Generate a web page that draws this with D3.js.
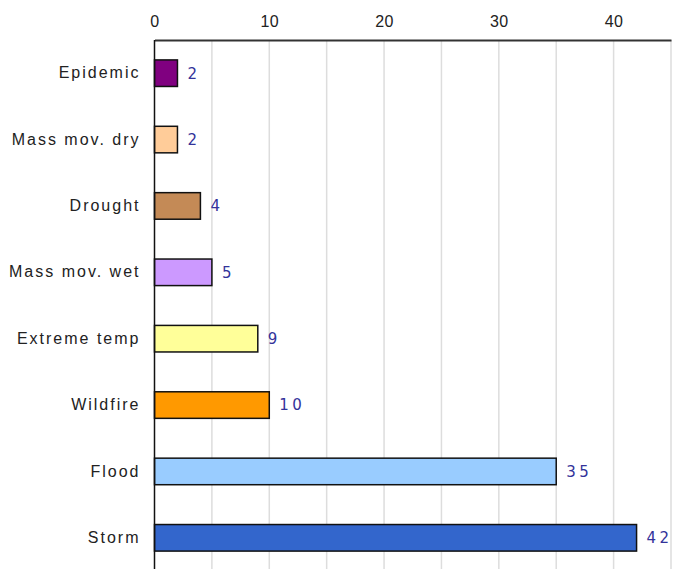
<!DOCTYPE html>
<html><head><meta charset="utf-8">
<script src="https://cdn.jsdelivr.net/npm/d3@7"></script>
<style>body{margin:0;background:#fff;}</style>
</head><body>
<svg id="c" width="675" height="569"></svg>
<script>
const categories = ["Epidemic","Mass mov. dry","Drought","Mass mov. wet","Extreme temp","Wildfire","Flood","Storm"];
const values = [2,2,4,5,9,10,35,42];
const colors = ["#800080","#FFCC99","#C48A56","#CC99FF","#FFFF99","#FF9900","#99CCFF","#3366CC"];
const tickLabels = [0,10,20,30,40];
const gridValues = [5,10,15,20,25,30,35,40,45];

(function(){
const svg = d3.select("#c");
const mLeft = 154.5, mRight = 671, mTop = 40, mBottom = 571;
const x = d3.scaleLinear().domain([0,45]).range([mLeft,mRight]);
const y = d3.scaleBand().domain(categories).range([mTop,mBottom]).paddingInner(0.6).paddingOuter(0.3);

svg.append("g").selectAll("line").data(gridValues).join("line")
  .attr("x1",d=>x(d)).attr("x2",d=>x(d)).attr("y1",mTop).attr("y2",569)
  .attr("stroke","#dddddd").attr("stroke-width",1.5);

svg.append("g").selectAll("rect").data(values).join("rect")
  .attr("x",x(0)).attr("y",(d,i)=>y(categories[i]))
  .attr("width",d=>x(d)-x(0)).attr("height",y.bandwidth())
  .attr("fill",(d,i)=>colors[i]).attr("stroke","#111").attr("stroke-width",1.5);

svg.append("g").selectAll("text").data(values).join("text")
  .attr("x",d=>x(d)+10).attr("y",(d,i)=>y(categories[i])+y.bandwidth()/2)
  .attr("dy","0.36em").attr("fill","#33339a")
  .style("font-family","DejaVu Sans, sans-serif").style("font-size","15px")
  .style("letter-spacing","3.5px").text(d=>d);

const xAxis = d3.axisTop(x).tickValues(tickLabels).tickSize(0).tickPadding(13);
const gx = svg.append("g").attr("transform",`translate(0,${mTop})`).call(xAxis);
gx.select(".domain").attr("stroke","#333").attr("stroke-width",2);
gx.selectAll("text").style("font-family","Liberation Sans, Arial, sans-serif").style("font-size","16px")
  .style("letter-spacing","0.5px").attr("fill","#222");

const yAxis = d3.axisLeft(y).tickSize(0).tickPadding(14);
const gy = svg.append("g").attr("transform",`translate(${mLeft},0)`).call(yAxis);
gy.select(".domain").attr("stroke","#111").attr("stroke-width",1.5).attr("d",`M0,${mTop}V569`);
gy.selectAll("text").style("font-family","Liberation Sans, Arial, sans-serif").style("font-size","16px")
  .style("letter-spacing","2px").attr("fill","#222");
})();
</script>
</body></html>
